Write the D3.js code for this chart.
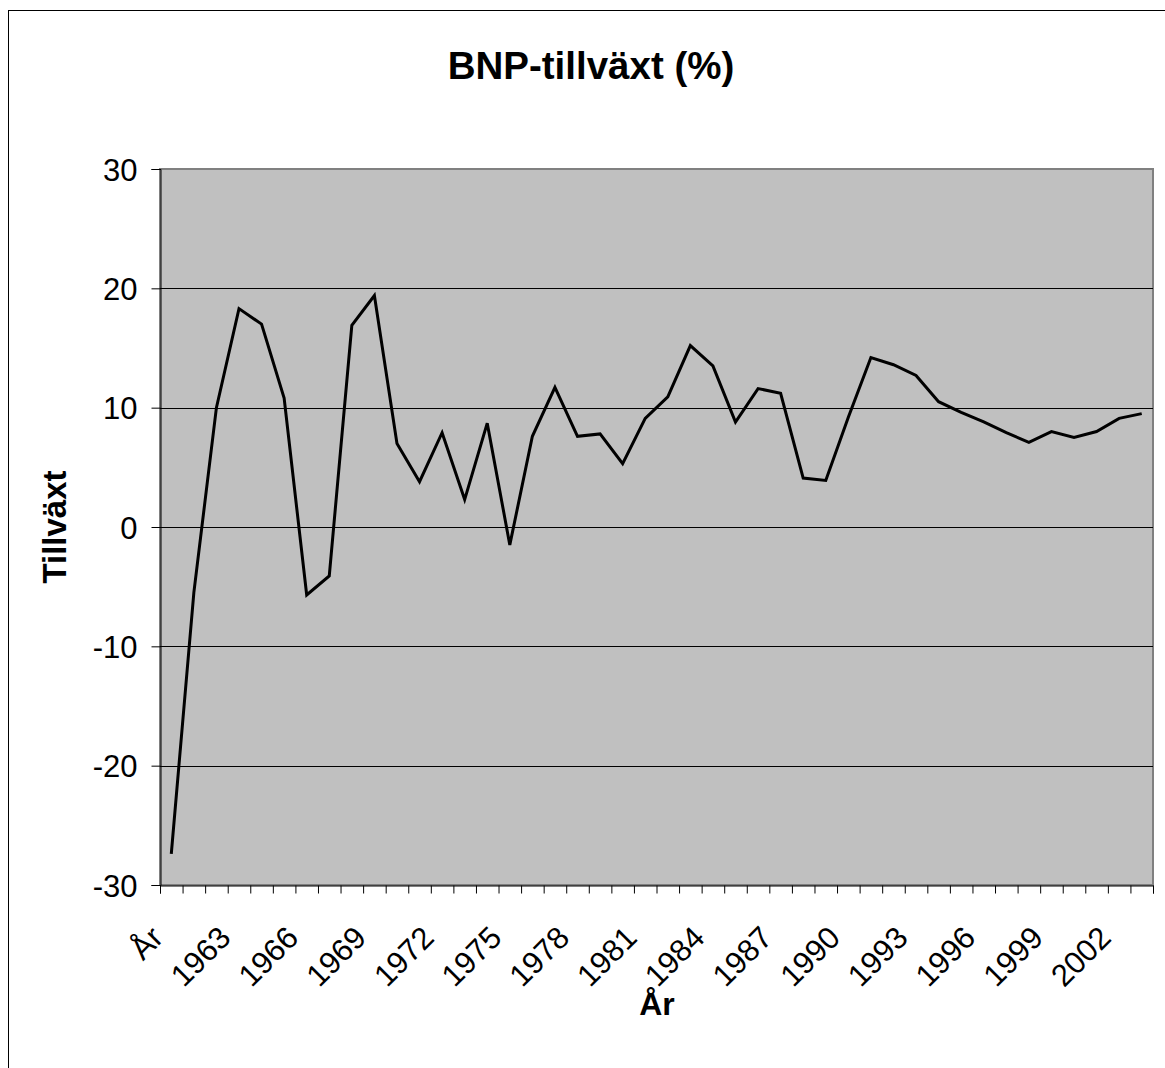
<!DOCTYPE html>
<html>
<head>
<meta charset="utf-8">
<script src="https://d3js.org/d3.v7.min.js"></script>
<style>
  body { margin: 0; background: #fff; }
  text { font-family: "Liberation Sans", Arial, sans-serif; }
</style>
</head>
<body>
<div id="chart"></div>
<script>
// categories (first one is the header cell "År")
var years = ["År", "1961", "1962", "1963", "1964", "1965", "1966", "1967", "1968", "1969",
  "1970", "1971", "1972", "1973", "1974", "1975", "1976", "1977", "1978", "1979",
  "1980", "1981", "1982", "1983", "1984", "1985", "1986", "1987", "1988", "1989",
  "1990", "1991", "1992", "1993", "1994", "1995", "1996", "1997", "1998", "1999",
  "2000", "2001", "2002", "2003"];

// BNP-tillväxt (%)
var growth = [-27.4, -5.5, 10.0, 18.3, 17.0, 10.8, -5.7, -4.1, 16.9, 19.4,
  7.0, 3.8, 7.9, 2.3, 8.7, -1.5, 7.6, 11.7, 7.6, 7.8,
  5.3, 9.1, 10.9, 15.2, 13.5, 8.8, 11.6, 11.2, 4.1, 3.9,
  9.2, 14.2, 13.6, 12.7, 10.5, 9.6, 8.8, 7.9, 7.1, 8.0,
  7.5, 8.0, 9.1, 9.5];

var yTicks = [-30, -20, -10, 0, 10, 20, 30];

var W = 1165, H = 1068;
var plot = {left: 160, right: 1153, top: 169, bottom: 885};

var svg = d3.select("#chart").append("svg")
    .attr("width", W)
    .attr("height", H);

// outer chart border
svg.append("rect")
    .attr("x", 8.5).attr("y", 10.5)
    .attr("width", W + 10).attr("height", H + 10)
    .attr("fill", "#fff")
    .attr("stroke", "#000")
    .attr("stroke-width", 1);

// scales
var x = d3.scaleBand().domain(years).range([plot.left, plot.right]).padding(0);
var xi = d3.scaleLinear().domain([0, years.length]).range([plot.left, plot.right]);
var y = d3.scaleLinear().domain([-30, 30]).range([plot.bottom, plot.top]);

// plot area
svg.append("rect")
    .attr("x", plot.left).attr("y", plot.top)
    .attr("width", plot.right - plot.left).attr("height", plot.bottom - plot.top)
    .attr("fill", "#c0c0c0")
    .attr("stroke", "#808080")
    .attr("stroke-width", 2);

// gridlines
svg.append("g")
    .selectAll("line")
    .data(yTicks.slice(1, -1))
    .enter().append("line")
    .attr("x1", plot.left).attr("x2", plot.right)
    .attr("y1", function(d) { return Math.round(y(d)) + 0.5; })
    .attr("y2", function(d) { return Math.round(y(d)) + 0.5; })
    .attr("stroke", "#000")
    .attr("stroke-width", 1);

// Y axis
var yAxis = svg.append("g")
    .attr("transform", "translate(" + (plot.left + 0.5) + ",0)")
    .call(d3.axisLeft(y).tickValues(yTicks).tickSize(9).tickPadding(14)
        .tickFormat(function(d) { return String(d); }));
yAxis.select(".domain").attr("stroke", "#000");
yAxis.selectAll("text")
    .style("font-size", "31px")
    .attr("fill", "#000")
    .attr("dy", "0.36em");

// X axis: tick marks on band boundaries
var xTickAxis = svg.append("g")
    .attr("transform", "translate(0," + (plot.bottom + 0.5) + ")")
    .call(d3.axisBottom(xi).tickValues(d3.range(years.length + 1)).tickSize(8).tickFormat(""));
xTickAxis.select(".domain").attr("stroke", "#000");

// X labels: every third category, rotated
svg.append("g")
    .selectAll("text")
    .data(years.filter(function(d, i) { return i % 3 === 0; }))
    .enter().append("text")
    .attr("transform", function(d) {
        return "translate(" + (x(d) + x.bandwidth() / 2 - 22) + "," + (plot.bottom + 39) + ") rotate(-45)";
    })
    .attr("text-anchor", "end")
    .attr("dy", "0.71em")
    .style("font-size", "31px")
    .text(function(d) { return d; });

// the line
var valueline = d3.line()
    .x(function(d, i) { return x(years[i]) + x.bandwidth() / 2; })
    .y(function(d) { return y(d); });

svg.append("path")
    .datum(growth)
    .attr("fill", "none")
    .attr("stroke", "#000")
    .attr("stroke-width", 3)
    .attr("stroke-linejoin", "miter")
    .attr("d", valueline);

// titles
svg.append("text")
    .attr("x", 591).attr("y", 79)
    .attr("text-anchor", "middle")
    .style("font-size", "38.5px")
    .style("font-weight", "bold")
    .text("BNP-tillväxt (%)");

svg.append("text")
    .attr("transform", "translate(66," + ((plot.top + plot.bottom) / 2) + ") rotate(-90)")
    .attr("text-anchor", "middle")
    .style("font-size", "33px")
    .style("font-weight", "bold")
    .text("Tillväxt");

svg.append("text")
    .attr("x", 657).attr("y", 1015)
    .attr("text-anchor", "middle")
    .style("font-size", "32px")
    .style("font-weight", "bold")
    .text("År");
</script>
</body>
</html>
